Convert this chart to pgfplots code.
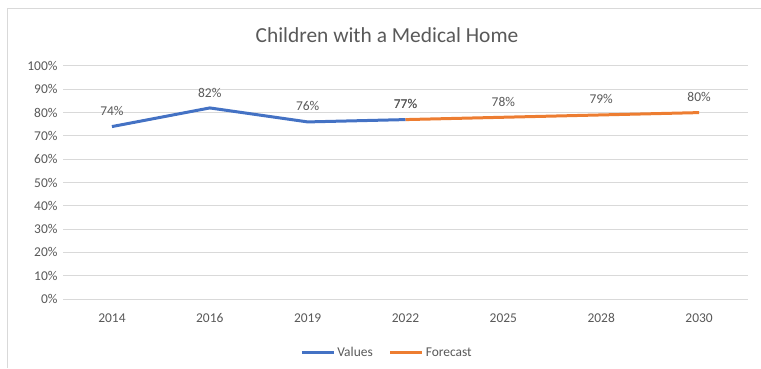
\documentclass[border=0pt]{standalone}
\usepackage{pgfplots}
\pgfplotsset{compat=1.18}
\usepackage{fontspec}
\setmainfont{Carlito}
\definecolor{xlblue}{HTML}{4472C4}
\definecolor{xlorange}{HTML}{ED7D31}
\definecolor{gridc}{HTML}{D9D9D9}
\definecolor{txt}{HTML}{595959}
\begin{document}
\begin{tikzpicture}[x=1bp,y=1bp]
\path[use as bounding box] (0,0) rectangle (761,368);
\draw[gridc, line width=1bp] (7,0) -- (7,359) -- (761,359);
\node[txt, font=\fontsize{21.5}{24}\selectfont] at (387,333) {Children with a Medical Home};
\begin{axis}[
  at={(63bp,69bp)}, anchor=south west,
  scale only axis, width=685bp, height=233bp,
  xmin=-0.5, xmax=6.5, ymin=0, ymax=100,
  axis line style={draw=none},
  xtick={0,1,2,3,4,5,6},
  xticklabels={2014,2016,2019,2022,2025,2028,2030},
  ytick={0,10,20,30,40,50,60,70,80,90,100},
  yticklabels={0\%,10\%,20\%,30\%,40\%,50\%,60\%,70\%,80\%,90\%,100\%},
  major tick length=0pt,
  ymajorgrids, grid style={gridc, line width=1bp},
  tick label style={txt, font=\fontsize{13.5}{15}\selectfont},
  xticklabel style={yshift=-11bp},
  yticklabel style={xshift=-2bp},
  legend style={at={(0.473,-0.19)}, anchor=north, draw=none, legend columns=2,
    font=\fontsize{13.5}{15}\selectfont, text=txt,
    /tikz/every even column/.append style={column sep=14bp}},
  legend image code/.code={\draw[#1, line width=3bp] (0bp,0bp) -- (32bp,0bp);},
  nodes near coords style={txt, font=\fontsize{13.5}{15}\selectfont, anchor=south, yshift=6bp},
  point meta=explicit symbolic,
]
\addplot[xlblue, line width=3bp, mark=none, nodes near coords]
  table[meta=lab] {
x y lab
0 74 74\%
1 82 82\%
2 76 76\%
3 77 77\%
};
\addlegendentry{Values}
\addplot[xlorange, line width=3bp, mark=none, nodes near coords]
  table[meta=lab] {
x y lab
3 77 77\%
4 78 78\%
5 79 79\%
6 80 80\%
};
\addlegendentry{Forecast}
\end{axis}
\end{tikzpicture}
\end{document}
